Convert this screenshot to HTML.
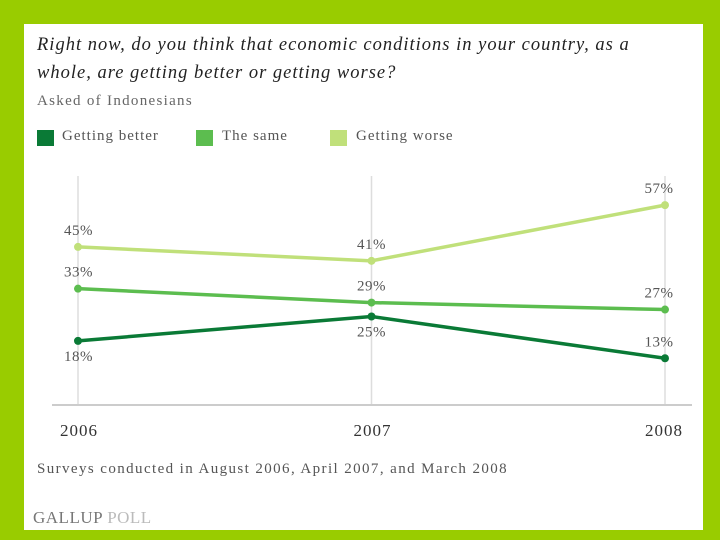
<!DOCTYPE html>
<html><head><meta charset="utf-8"><style>
body{margin:0;width:720px;height:540px;background:#99cc00;font-family:"Liberation Serif",serif;overflow:hidden}
#panel{position:absolute;left:24px;top:24px;width:679px;height:506px;background:#fff}
.t{position:absolute;white-space:nowrap;color:#333}
</style></head><body>
<div id="panel"></div>
<div class="t" style="left:37px;top:31px;font-size:18.5px;font-style:italic;line-height:28px;color:#222;letter-spacing:1px">Right now, do you think that economic conditions in your country, as a<br>whole, are getting better or getting worse?</div>
<div class="t" style="left:37px;top:93px;font-size:15px;color:#666;letter-spacing:1.3px">Asked of Indonesians</div>
<div>
<div style="position:absolute;left:37px;top:130px;width:17px;height:16px;background:#0a7a36"></div>
<div class="t" style="left:62px;top:128px;font-size:15px;color:#555;letter-spacing:1px">Getting better</div>
<div style="position:absolute;left:196px;top:130px;width:17px;height:16px;background:#5cbd4f"></div>
<div class="t" style="left:222px;top:128px;font-size:15px;color:#555;letter-spacing:1px">The same</div>
<div style="position:absolute;left:330px;top:130px;width:17px;height:16px;background:#c0e07a"></div>
<div class="t" style="left:356px;top:128px;font-size:15px;color:#555;letter-spacing:1px">Getting worse</div>
</div>
<svg id="chart" width="720" height="540" style="position:absolute;left:0;top:0"></svg>
<div class="t" style="left:37px;top:461px;font-size:15px;color:#555;letter-spacing:1.4px">Surveys conducted in August 2006, April 2007, and March 2008</div>
<div class="t" style="left:33px;top:508px;font-size:17px;color:#777;letter-spacing:0.5px">GALLUP <span style="color:#bbb">POLL</span></div>
<script>
const years=["2006","2007","2008"];
const better=[18,25,13];
const same=[33,29,27];
const worse=[45,41,57];
const NS="http://www.w3.org/2000/svg";
const svg=document.getElementById('chart');
const xs=i=>78+i*293.5;
const ys=v=>403.5-3.48*v;
function mk(t,a){const e=document.createElementNS(NS,t);for(const k in a)e.setAttribute(k,a[k]);svg.appendChild(e);return e;}
years.forEach((y,i)=>{
 const g=mk('line',{x1:xs(i),x2:xs(i),y1:176,y2:405,stroke:'#ddd','stroke-width':1.5});
 
 
 const t=mk('text',{x:xs(i)+(i==0?1:i==2?-1:1),y:436,'text-anchor':'middle','font-size':17,'letter-spacing':1,fill:'#333','font-family':'Liberation Serif, serif'});
 t.textContent=y;
 
 
});
const ax=mk('line',{x1:52,x2:692,y1:405,y2:405,stroke:'#ccc','stroke-width':2});


const series=[["worse",worse,"#c0e07a",[-1,-1,-1]],["same",same,"#5cbd4f",[-1,-1,-1]],["better",better,"#0a7a36",[1,1,-1]]];
series.forEach(([n,d,c,pos])=>{
 const p=mk('polyline',{points:d.map((v,i)=>xs(i)+','+ys(v)).join(' '),fill:'none',stroke:c,'stroke-width':3.5});
 
 
 d.forEach((v,i)=>{
  const m=mk('circle',{cx:xs(i),cy:ys(v),r:4,fill:c});
  
  
  const lx=i==0?xs(i)-14:i==1?xs(i):xs(i)-6;
  const ly=pos[i]<0?ys(v)-12:ys(v)+20;
  const t=mk('text',{x:lx,y:ly,'text-anchor':i==0?'start':'middle','font-size':15,'letter-spacing':0.5,fill:'#555','font-family':'Liberation Serif, serif'});
  t.textContent=v+'%';
  
  
 });
});
</script>
</body></html>
